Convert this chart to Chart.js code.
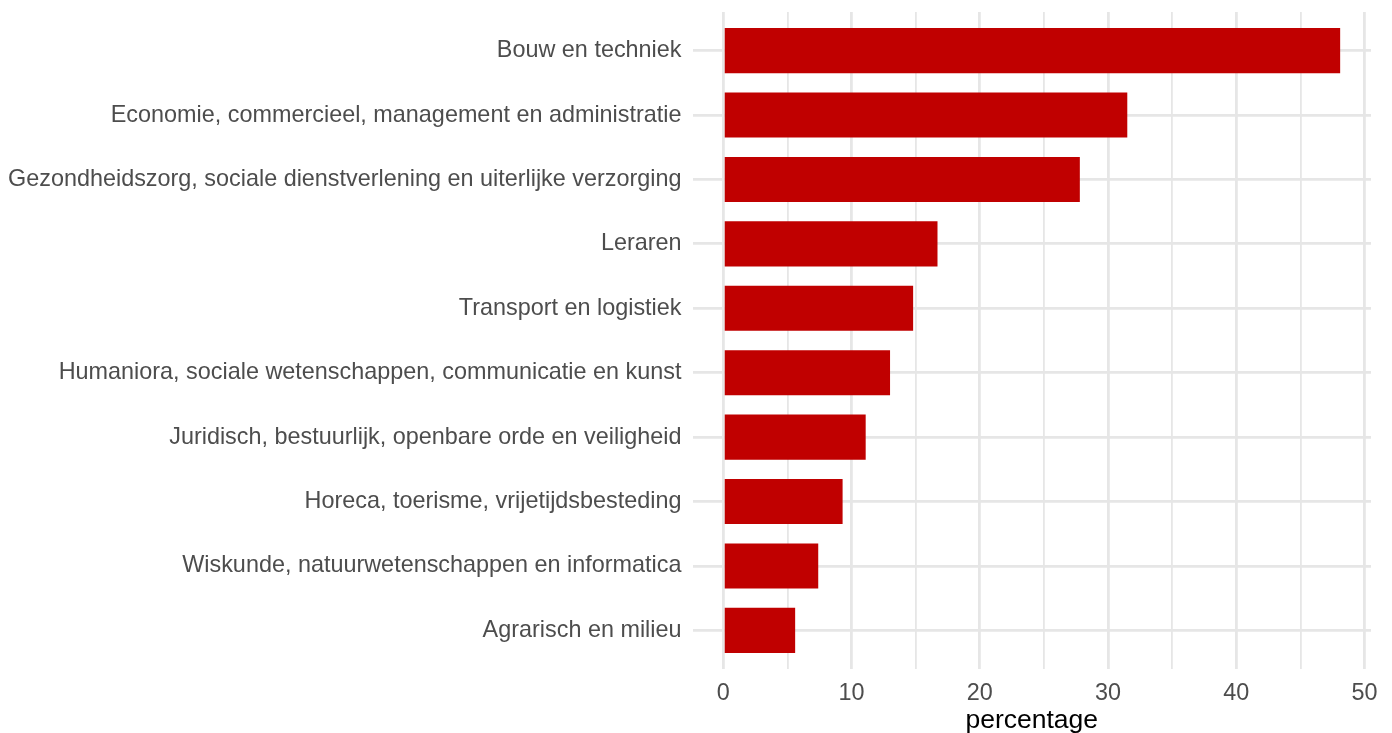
<!DOCTYPE html>
<html>
<head>
<meta charset="utf-8">
<script src="https://cdn.jsdelivr.net/npm/chart.js@4/dist/chart.umd.min.js"></script>
<style>
  html, body { margin: 0; padding: 0; background: #fff; }
  #wrap { width: 1392px; height: 733px; }
</style>
</head>
<body>
<div id="wrap"><canvas id="chart"></canvas></div>
<script>
// categories, top to bottom
const categories = [
	'Bouw en techniek',
	'Economie, commercieel, management en administratie',
	'Gezondheidszorg, sociale dienstverlening en uiterlijke verzorging',
	'Leraren',
	'Transport en logistiek',
	'Humaniora, sociale wetenschappen, communicatie en kunst',
	'Juridisch, bestuurlijk, openbare orde en veiligheid',
	'Horeca, toerisme, vrijetijdsbesteding',
	'Wiskunde, natuurwetenschappen en informatica',
	'Agrarisch en milieu',
];
const percentages = [48.1, 31.5, 27.8, 16.7, 14.8, 13.0, 11.1, 9.3, 7.4, 5.6];
const xTicks = [0, 5, 10, 15, 20, 25, 30, 35, 40, 45, 50];
const xTitle = 'percentage';

const FONT = '"Liberation Sans", Arial, sans-serif';
const GRID = '#E6E6E6';

// ggplot-like expansion: 5% of the data range on each side, 0.6 units on discrete axis
const xMax = Math.max(...percentages);
const xPad = xMax * 0.05;

const ctx = document.getElementById('chart').getContext('2d');

new Chart(ctx, {
	type: 'bar',
	data: {
		datasets: [
			{
				data: percentages.map((v, i) => ({ x: v, y: i })),
				backgroundColor: '#C00000',
				borderWidth: 0,
				categoryPercentage: 0.7,
				barPercentage: 1,
			},
		],
	},
	options: {
		indexAxis: 'y',
		responsive: true,
		maintainAspectRatio: false,
		animation: false,
		layout: { padding: { top: 12, right: 21, left: 0, bottom: 0 } },
		plugins: {
			legend: { display: false },
			tooltip: { enabled: false },
		},
		scales: {
			x: {
				type: 'linear',
				min: -xPad,
				max: xMax + xPad,
				afterBuildTicks(scale) {
					scale.ticks = xTicks.map((v) => ({ value: v }));
				},
				afterFit(scale) {
					scale.height = 64;
				},
				border: { display: false },
				grid: {
					drawTicks: false,
					color: GRID,
					lineWidth: (c) => (c.tick && c.tick.value % 10 === 0 ? 2.8 : 1.8),
				},
				ticks: {
					padding: 11,
					color: '#4D4D4D',
					font: { family: FONT, size: 23.4 },
					callback: (v) => (v % 10 === 0 ? v : ''),
				},
				title: {
					display: true,
					text: xTitle,
					color: '#000000',
					font: { family: FONT, size: 26.5 },
					padding: { top: 0, bottom: -4 },
				},
			},
			y: {
				type: 'linear',
				reverse: true,
				offset: false,
				min: -0.6,
				max: categories.length - 1 + 0.6,
				afterBuildTicks(scale) {
					scale.ticks = categories.map((c, i) => ({ value: i }));
				},
				afterFit(scale) {
					scale.width = 692.5;
					scale.paddingTop = 0;
					scale.paddingBottom = 0;
				},
				border: { display: false },
				grid: {
					offset: false,
					drawTicks: false,
					color: GRID,
					lineWidth: 2.8,
				},
				ticks: {
					padding: 11,
					color: '#4D4D4D',
					font: { family: FONT, size: 23.4 },
					callback: (v) => categories[v] ?? '',
				},
			},
		},
	},
});
</script>
</body>
</html>
